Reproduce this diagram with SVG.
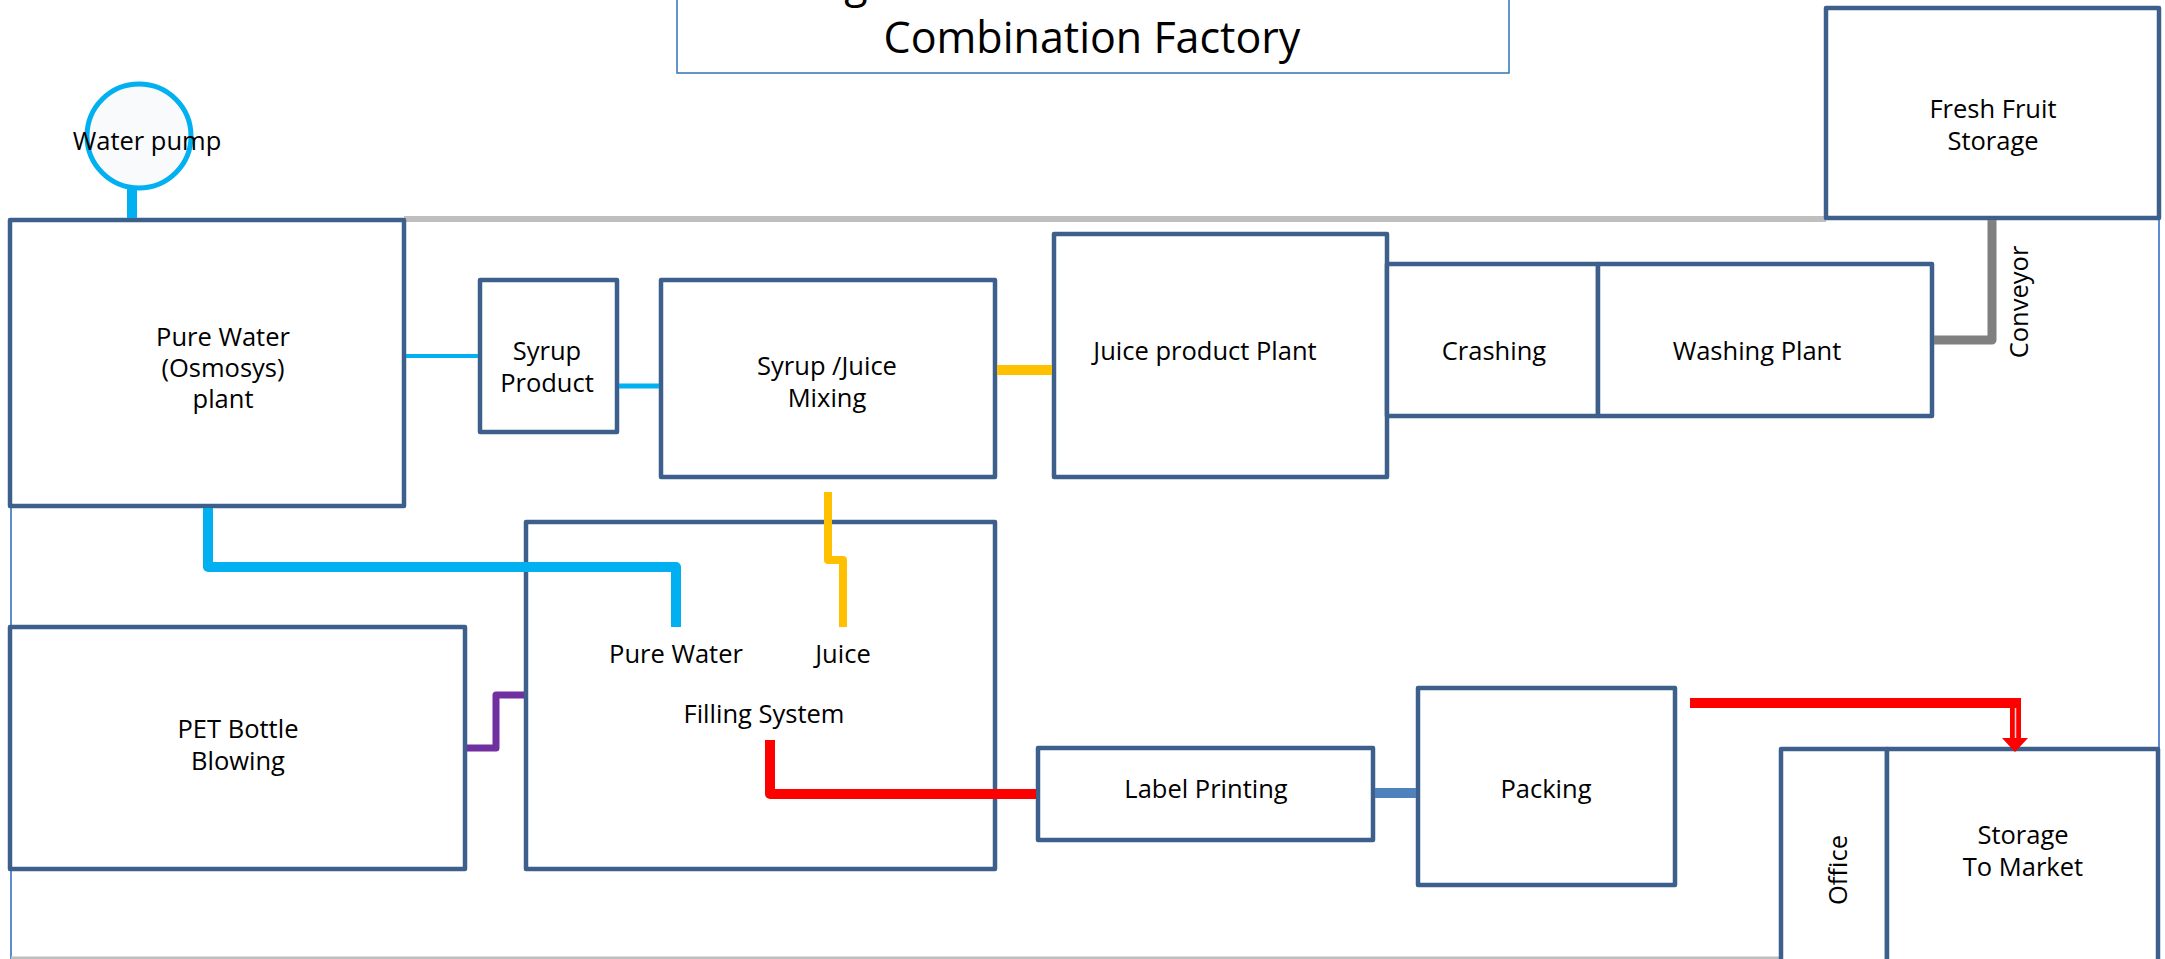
<svg xmlns="http://www.w3.org/2000/svg" width="2165" height="959" viewBox="0 0 2165 959">
<style>
.box{fill:#ffffff;stroke:#3D5F8C;stroke-width:4.5;stroke-linejoin:round}
.t{font-family:"Open Sans","Noto Sans","Noto Sans CJK KR",sans-serif;font-size:25.5px;fill:#000;text-anchor:middle}
.title{font-family:"Open Sans","Noto Sans","Noto Sans CJK KR",sans-serif;font-size:43px;fill:#000;text-anchor:middle}
.c{fill:none;stroke-linejoin:round}
</style>
<rect width="2165" height="959" fill="#ffffff"/>
<g id="frame">
<line x1="404" y1="219" x2="1826" y2="219" stroke="#BFBFBF" stroke-width="6"/>
<line x1="11" y1="505" x2="11" y2="959" stroke="#5B8BD0" stroke-width="2"/>
<line x1="2159" y1="218" x2="2159" y2="750" stroke="#5B8BD0" stroke-width="2"/>
<line x1="11" y1="958" x2="2159" y2="958" stroke="#BFBFBF" stroke-width="3"/>
</g>
<g id="title">
<rect x="677" y="-10" width="832" height="83" fill="#ffffff" stroke="#2E75B6" stroke-width="1.5"/>
<text class="title" x="856" y="-3">g</text>
<text class="title" x="1092" y="53">Combination Factory</text>
</g>
<g id="water-pump">
<circle cx="139" cy="136" r="52" fill="#F8FAFC" stroke="#00B0F0" stroke-width="5"/>
<text class="t" x="147" y="150">Water pump</text>
</g>
<g id="pure-water-plant">
<rect class="box" x="10" y="220" width="394" height="286"/>
<text class="t" x="223" y="346">Pure Water</text>
<text class="t" x="223" y="377">(Osmosys)</text>
<text class="t" x="223" y="408">plant</text>
</g>
<g id="syrup-product">
<rect class="box" x="480" y="280" width="137" height="152"/>
<text class="t" x="547" y="360">Syrup</text>
<text class="t" x="547" y="392">Product</text>
</g>
<g id="syrup-juice-mixing">
<rect class="box" x="661" y="280" width="334" height="197"/>
<text class="t" x="827" y="375">Syrup /Juice</text>
<text class="t" x="827" y="407">Mixing</text>
</g>
<g id="juice-product-plant">
<rect class="box" x="1054" y="234" width="333" height="243"/>
<text class="t" x="1205" y="360">Juice product Plant</text>
</g>
<g id="crashing">
<rect class="box" x="1387" y="264" width="211" height="152"/>
<text class="t" x="1494" y="360">Crashing</text>
</g>
<g id="washing-plant">
<rect class="box" x="1598" y="264" width="334" height="152"/>
<text class="t" x="1757" y="360">Washing Plant</text>
</g>
<g id="fresh-fruit-storage">
<rect class="box" x="1826" y="8" width="333" height="210"/>
<text class="t" x="1993" y="118">Fresh Fruit</text>
<text class="t" x="1993" y="150">Storage</text>
</g>
<g id="conveyor-label">
<text class="t" transform="translate(2028,302) rotate(-90)">Conveyor</text>
</g>
<g id="pet-bottle-blowing">
<rect class="box" x="10" y="627" width="455" height="242"/>
<text class="t" x="238" y="738">PET Bottle</text>
<text class="t" x="238" y="770">Blowing</text>
</g>
<g id="filling-system">
<rect class="box" x="526" y="522" width="469" height="347"/>
<text class="t" x="676" y="663">Pure Water</text>
<text class="t" x="843" y="663">Juice</text>
<text class="t" x="764" y="723">Filling System</text>
</g>
<g id="label-printing">
<rect class="box" x="1038" y="748" width="335" height="92"/>
<text class="t" x="1206" y="798">Label Printing</text>
</g>
<g id="packing">
<rect class="box" x="1418" y="688" width="257" height="197"/>
<text class="t" x="1546" y="798">Packing</text>
</g>
<g id="office">
<rect class="box" x="1781" y="749" width="106" height="215"/>
<text class="t" transform="translate(1847,870) rotate(-90)">Office</text>
</g>
<g id="storage-to-market">
<rect class="box" x="1887" y="749" width="271" height="215"/>
<text class="t" x="2023" y="844">Storage</text>
<text class="t" x="2023" y="876">To Market</text>
</g>
<g id="connectors">
<line x1="132" y1="188" x2="132" y2="218" stroke="#00B0F0" stroke-width="10"/>
<line x1="406" y1="356" x2="478" y2="356" stroke="#00B0F0" stroke-width="4"/>
<line x1="619" y1="386" x2="659" y2="386" stroke="#00B0F0" stroke-width="5"/>
<line x1="997" y1="370" x2="1052" y2="370" stroke="#FFC000" stroke-width="10"/>
<path class="c" d="M208 508 V567 H676 V627" stroke="#00B0F0" stroke-width="10"/>
<path class="c" d="M828 492 V560 H843 V627" stroke="#FFC000" stroke-width="8"/>
<path class="c" d="M467 748 H496 V695 H524" stroke="#7030A0" stroke-width="7"/>
<path class="c" d="M770 740 V794 H1036" stroke="#FF0000" stroke-width="10"/>
<line x1="1375" y1="793" x2="1416" y2="793" stroke="#4F81BD" stroke-width="10"/>
<path class="c" d="M1992 220 V340 H1934" stroke="#808080" stroke-width="9"/>
<line x1="1690" y1="703" x2="2021" y2="703" stroke="#FF0000" stroke-width="10"/>
<polygon points="2010,698 2021,698 2021,738 2028,738 2015,752 2002,738 2010,738" fill="#FF0000"/>
<line x1="2015.5" y1="708" x2="2015.5" y2="738" stroke="#F2D0D0" stroke-width="1.5"/>
</g>
</svg>
